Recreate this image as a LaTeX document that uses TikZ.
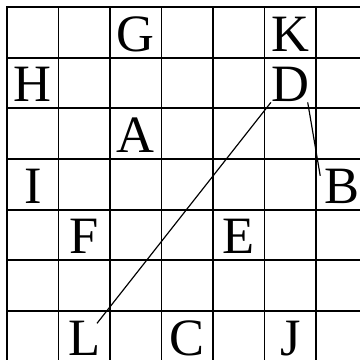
\documentclass[tikz,border=0pt]{standalone}
\usepackage{fontspec}
\setmainfont{Liberation Serif}
\tikzset{board/rule/.style={black, line width=1pt, line cap=rect},
  board/link/.style={black, line width=0.65pt},
  board/letter/.style={inner sep=0pt, yshift=-1pt, font=\fontsize{29}{29}\selectfont}}

\begin{document}
\begin{tikzpicture}[x=1cm, y=0.984cm]
  \useasboundingbox (-0.136,0.138) rectangle (6.854,-6.967);
  \foreach \k in {0,...,7} {
    \draw[board/rule] (\k,0) -- (\k,-7);
    \draw[board/rule] (0,-\k) -- (7,-\k);
  }
\node[board/letter] (G) at (2.5,-0.5) {G};
\node[board/letter] (K) at (5.5,-0.5) {K};
\node[board/letter] (H) at (0.5,-1.5) {H};
\node[board/letter] (D) at (5.5,-1.5) {D};
\node[board/letter] (A) at (2.5,-2.5) {A};
\node[board/letter] (I) at (0.5,-3.5) {I};
\node[board/letter] (B) at (6.5,-3.5) {B};
\node[board/letter] (F) at (1.5,-4.5) {F};
\node[board/letter] (E) at (4.5,-4.5) {E};
\node[board/letter] (L) at (1.5,-6.5) {L};
\node[board/letter] (C) at (3.5,-6.5) {C};
\node[board/letter] (J) at (5.5,-6.5) {J};
\draw[board/link] (D.south west) -- ([xshift=-2pt,yshift=-1.5pt]L.north east);
\draw[board/link] ([xshift=-1pt]D.south east) -- ([xshift=-2pt,yshift=-4pt]B.north west);

\end{tikzpicture}
\end{document}
